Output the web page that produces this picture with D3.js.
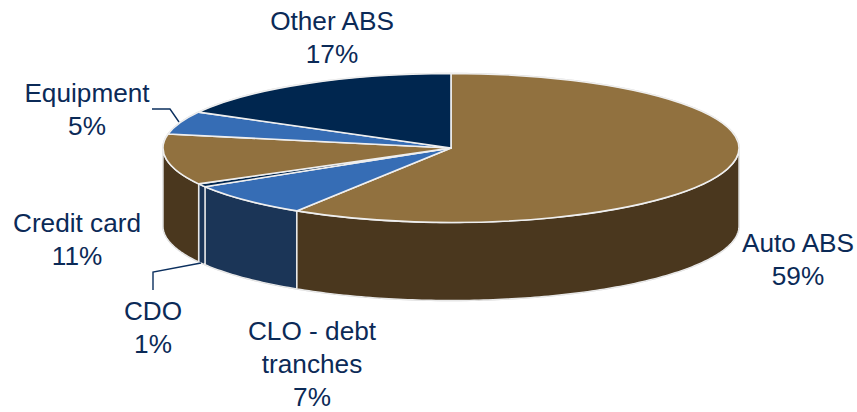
<!DOCTYPE html>
<html><head><meta charset="utf-8">
<script src="https://cdn.jsdelivr.net/npm/d3@7/dist/d3.min.js"></script>
<style>html,body{margin:0;padding:0;background:#fff}svg{display:block}text{font-family:"Liberation Sans",Arial,sans-serif;font-size:26.2px;fill:#0b2a57;text-anchor:middle}</style>
</head><body><svg id="c" width="857" height="412"></svg>
<script>
const categories = ["Auto ABS","CLO - debt tranches","CDO","Credit card","Equipment","Other ABS"];
const values = [59,7.3,0.7,11,5,17];
const topColors = ["#91713f","#366db5","#00264f","#91713f","#366db5","#00264f"];
const sideColors = ["#4a371e","#1b3557","#1b3557","#4a371e","#1b3557","#00264f"];
const labelLines = [["Auto ABS","59%"],["CLO - debt","tranches","7%"],["CDO","1%"],["Credit card","11%"],["Equipment","5%"],["Other ABS","17%"]];
const labelPos = [[798,252],[312,340],[153,320],[77,232],[87,102],[332,30]];
const leaders = [null,null,[[153,290],[153,272],[201,263]],null,[[152,109],[170,109],[179,122]],null];

const cx=451, cy=148, rx=288, ry=74.5, depth=78, lineH=33;
const svg=d3.select("#c");
const arcs=d3.pie().sort(null).value(d=>d)(values);
const px=d3.scaleLinear().domain([-1,1]).range([cx-rx,cx+rx]);
const py=d3.scaleLinear().domain([-1,1]).range([cy-ry,cy+ry]);
const pt=(a,h)=>[px(Math.sin(a)),py(-Math.cos(a))+h];
function sidePath(a0,a1){
  const s=Math.max(a0,Math.PI/2), e=Math.min(a1,3*Math.PI/2);
  if(e<=s) return null;
  const n=Math.max(2,Math.ceil((e-s)*60));
  const aa=d3.range(n+1).map(i=>s+(e-s)*i/n);
  const pts=aa.map(a=>pt(a,0)).concat(aa.slice().reverse().map(a=>pt(a,depth)));
  return d3.line()(pts)+"Z";
}
// soft outer halo
const halo=[...d3.range(0,181).map(i=>{const a=Math.PI*2*i/360+Math.PI*1.5;return pt(a,0)}),
            ...d3.range(0,181).map(i=>{const a=Math.PI/2+Math.PI*2*i/360;return pt(a,depth)})];
svg.append("path").attr("d",d3.line()(halo)+"Z").attr("fill","#fff").attr("stroke","#d9d9d9").attr("stroke-width",1.5);
// sides
svg.append("g").selectAll("path").data(arcs).join("path")
  .attr("d",d=>sidePath(d.startAngle,d.endAngle))
  .attr("fill",(d,i)=>sideColors[i]).attr("stroke","#e8e8e8").attr("stroke-width",1.4).attr("stroke-linejoin","round");
// top faces
const arc=d3.arc().innerRadius(0).outerRadius(rx);
svg.append("g").attr("transform",`translate(${cx},${cy}) scale(1,${ry/rx})`)
  .selectAll("path").data(arcs).join("path")
  .attr("d",arc).attr("fill",(d,i)=>topColors[i])
  .attr("stroke","#efefef").attr("stroke-width",1.6).attr("vector-effect","non-scaling-stroke").attr("stroke-linejoin","round");
// leaders
svg.append("g").selectAll("path").data(leaders.filter(Boolean)).join("path")
  .attr("d",d=>d3.line()(d)).attr("fill","none").attr("stroke","#0b2f5e").attr("stroke-width",1.4);
// labels
const t=svg.append("g").selectAll("text").data(labelLines).join("text")
  .attr("transform",(d,i)=>`translate(${labelPos[i][0]},${labelPos[i][1]})`);
t.selectAll("tspan").data(d=>d).join("tspan").attr("x",0).attr("y",(d,i)=>i*lineH).text(d=>d);
</script></body></html>
